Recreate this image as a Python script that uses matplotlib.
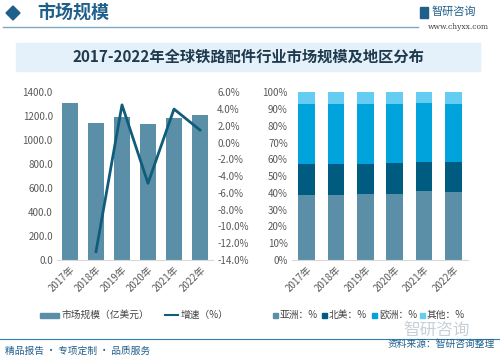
import matplotlib
matplotlib.use("Agg")
import matplotlib.pyplot as plt
from matplotlib.patches import Rectangle, Polygon
from matplotlib.lines import Line2D

plt.rcParams["font.family"] = ["Noto Sans CJK SC", "DejaVu Sans"]

years = ["2017年", "2018年", "2019年", "2020年", "2021年", "2022年"]
market_size = [1313, 1140, 1193, 1135, 1185, 1207]
growth = [None, -13.0, 4.5, -4.85, 4.0, 1.5]

asia = [38.6, 39.0, 39.2, 39.6, 41.0, 40.4]
north_america = [18.7, 18.3, 18.1, 18.3, 17.3, 18.0]
europe = [35.9, 35.9, 35.9, 35.3, 35.1, 34.4]
other = [6.8, 6.8, 6.8, 6.8, 6.6, 7.2]

W, H = 500, 360
fig = plt.figure(figsize=(5, 3.6), dpi=100)


def box(x0, y0, x1, y1):
    # pixel box (top-left origin) -> figure fraction
    return [x0 / W, 1 - y1 / H, (x1 - x0) / W, (y1 - y0) / H]


# header
fig.patches.append(Polygon([[6 / W, 1 - 13 / H], [13 / W, 1 - 6 / H], [20 / W, 1 - 13 / H], [13 / W, 1 - 20 / H]],
                           closed=True, transform=fig.transFigure, color="#1f5f8b"))
fig.text(37 / W, 1 - 13 / H, "市场规模", fontsize=13, fontweight="bold", color="#1f5f8b", va="center")
fig.add_artist(Line2D([3 / W, 418 / W], [1 - 27 / H, 1 - 27 / H], color="#7fa8c4", lw=1))
fig.text(432 / W, 1 - 12 / H, "智研咨询", fontsize=8, color="#1f5f8b", va="center")
fig.text(428 / W, 1 - 27 / H, "www.chyxx.com", fontsize=5.5, color="#444444", va="center",
         family="DejaVu Serif")
fig.patches.append(Rectangle((420 / W, 1 - 18 / H), 8 / W, 11 / H, transform=fig.transFigure,
                             color="#1f5f8b"))

# title box
fig.patches.append(Rectangle((16 / W, 1 - 71 / H), 464 / W, 28 / H, transform=fig.transFigure,
                             color="#e4f1fa"))
fig.text(248 / W, 1 - 57 / H, "2017-2022年全球铁路配件行业市场规模及地区分布", fontsize=11,
         fontweight="bold", color="#1f3a4d", ha="center", va="center")

tick_color = "#595959"

# left chart: market size + growth
ax1 = fig.add_axes(box(57, 92.3, 213, 260))
x = range(len(years))
ax1.bar(x, market_size, width=0.6, color="#5b8fa8")
ax1.set_ylim(0, 1400)
ax1.set_yticks(range(0, 1401, 200))
ax1.set_yticklabels([f"{v:.1f}" for v in range(0, 1401, 200)])
ax1.set_xlim(-0.5, 5.5)
ax1.set_xticks(list(x))
ax1.set_xticklabels(years, rotation=45, ha="right", rotation_mode="anchor")
for s in ["top", "right", "left"]:
    ax1.spines[s].set_visible(False)
ax1.spines["bottom"].set_color("#d9d9d9")
ax1.tick_params(length=0, labelsize=7, colors=tick_color, pad=3)

ax2 = ax1.twinx()
gx = [i for i, g in enumerate(growth) if g is not None]
gy = [g for g in growth if g is not None]
ax2.plot(gx, gy, color="#0f5d7a", lw=2)
ax2.set_ylim(-14, 6)
ax2.set_yticks(range(-14, 7, 2))
ax2.set_yticklabels([f"{v:.1f}%" for v in range(-14, 7, 2)])
for s in ["top", "right", "left", "bottom"]:
    ax2.spines[s].set_visible(False)
ax2.tick_params(length=0, labelsize=7, colors=tick_color, pad=3)

# right chart: regional share
ax3 = fig.add_axes(box(292, 92.3, 468, 260))
b2 = [a + n for a, n in zip(asia, north_america)]
b3 = [a + e for a, e in zip(b2, europe)]
ax3.bar(x, asia, width=0.57, color="#5b8fa8")
ax3.bar(x, north_america, bottom=asia, width=0.57, color="#005b80")
ax3.bar(x, europe, bottom=b2, width=0.57, color="#00a3dc")
ax3.bar(x, other, bottom=b3, width=0.57, color="#66cdf2")
ax3.set_ylim(0, 100)
ax3.set_yticks(range(0, 101, 10))
ax3.set_yticklabels([f"{v}%" for v in range(0, 101, 10)])
ax3.set_xlim(-0.5, 5.5)
ax3.set_xticks(list(x))
ax3.set_xticklabels(years, rotation=45, ha="right", rotation_mode="anchor")
for s in ["top", "right", "left"]:
    ax3.spines[s].set_visible(False)
ax3.spines["bottom"].set_color("#d9d9d9")
ax3.tick_params(length=0, labelsize=7, colors=tick_color, pad=3)

# legends
ly = 1 - 315 / H
fig.patches.append(Rectangle((40 / W, ly - 2.5 / H), 19 / W, 5 / H, transform=fig.transFigure,
                             color="#5b8fa8"))
fig.text(62 / W, ly, "市场规模（亿美元）", fontsize=7, color="#404040", va="center")
fig.add_artist(Line2D([165 / W, 178 / W], [ly, ly], color="#0f5d7a", lw=1.5))
fig.text(181 / W, ly, "增速（%）", fontsize=7, color="#404040", va="center")
for lx, c, label in [(273, "#5b8fa8", "亚洲：%"), (322, "#005b80", "北美：%"),
                     (372, "#00a3dc", "欧洲：%"), (420, "#66cdf2", "其他：%")]:
    fig.patches.append(Rectangle((lx / W, ly - 2.5 / H), 5 / W, 5 / H, transform=fig.transFigure,
                                 color=c))
    fig.text((lx + 7) / W, ly, label, fontsize=7, color="#404040", va="center")

# footer
fig.text(470 / W, 1 - 330 / H, "智研咨询", fontsize=12, color="#c8d0d6", ha="right", va="center",
         zorder=0)
fig.add_artist(Line2D([0, 1], [1 - 339 / H, 1 - 339 / H], color="#2f7fb0", lw=0.8))
fig.text(5 / W, 1 - 351 / H, "精品报告 · 专项定制 · 品质服务", fontsize=7, color="#1f5f8b", va="center")
fig.text(495 / W, 1 - 344 / H, "资料来源：智研咨询整理", fontsize=7, color="#1f5f8b", ha="right",
         va="center")

fig.savefig("out.png", dpi=100)
